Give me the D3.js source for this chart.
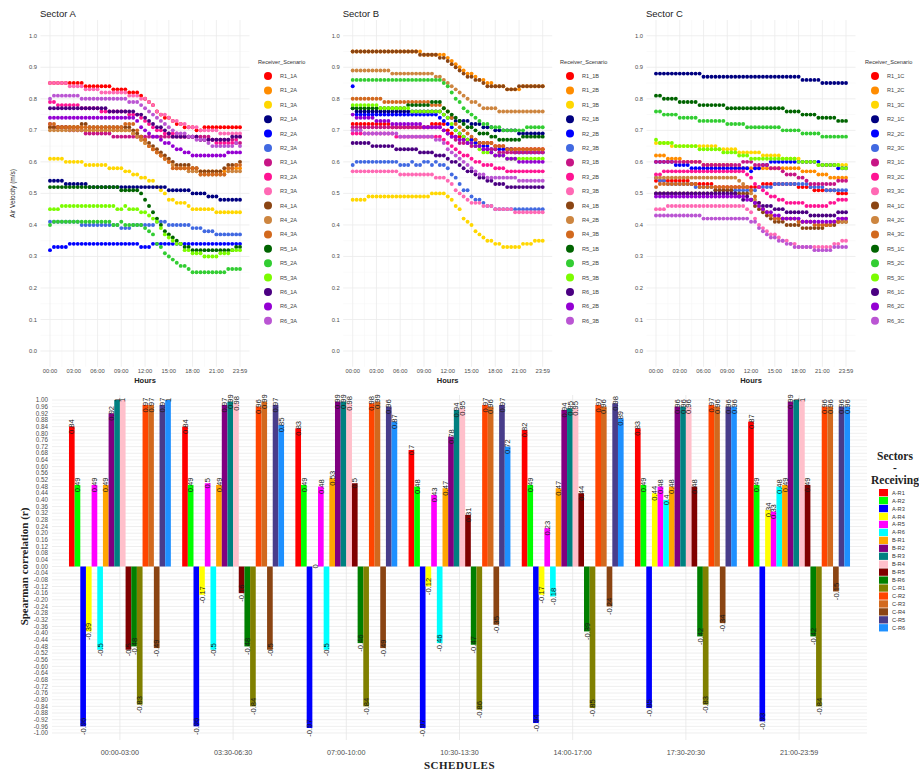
<!DOCTYPE html>
<html>
<head>
<meta charset="utf-8">
<script src="https://cdn.jsdelivr.net/npm/d3@7"></script>
<style>
  body { margin: 0; background: #fff; }
  svg { display: block; }
</style>
</head>
<body>
<svg id="chart" width="919" height="769"></svg>
<script>
// ---------------------------------------------------------------
// Air velocity per receiver and scenario, recorded every 30 minutes.
// Each series is written as steps: [first time index, value (m/s)];
// a value holds until the next step starts.
// ---------------------------------------------------------------
const hours = ["00:00","00:30","01:00","01:30","02:00","02:30","03:00","03:30","04:00","04:30",
  "05:00","05:30","06:00","06:30","07:00","07:30","08:00","08:30","09:00","09:30","10:00","10:30",
  "11:00","11:30","12:00","12:30","13:00","13:30","14:00","14:30","15:00","15:30","16:00","16:30",
  "17:00","17:30","18:00","18:30","19:00","19:30","20:00","20:30","21:00","21:30","22:00","22:30",
  "23:00","23:30","23:59"];
const hourTicks = ["00:00","03:00","06:00","09:00","12:00","15:00","18:00","21:00","23:59"];
const velocityTicks = [0.0,0.1,0.2,0.3,0.4,0.5,0.6,0.7,0.8,0.9,1.0];
const receivers = ["R1_1","R1_2","R1_3","R2_1","R2_2","R2_3","R3_1","R3_2","R3_3",
  "R4_1","R4_2","R4_3","R5_1","R5_2","R5_3","R6_1","R6_2","R6_3"];
const receiverColors = ["#FF0000","#FF8C00","#FFD700","#000080","#0000FF","#4169E1","#C71585","#FF1493","#FF69B4",
  "#8B4513","#CD853F","#D2691E","#006400","#32CD32","#7CFC00","#4B0082","#9400D3","#BA55D3"];

const sectorA = [
  [[0,.85],[9,.84],[16,.83],[20,.82],[23,.81],[24,.80],[25,.79],[26,.78],[27,.76],[28,.75],[29,.74],[31,.73],[32,.72],[34,.71],[37,.70],[39,.71]],
  [[0,.71],[9,.70],[21,.69],[22,.68],[23,.67],[24,.66],[25,.65],[26,.64],[27,.63],[28,.62],[29,.61],[30,.60],[31,.59],[32,.58],[37,.57],[45,.58]],
  [[0,.61],[4,.60],[9,.59],[15,.58],[19,.57],[21,.56],[23,.55],[25,.54],[27,.52],[28,.51],[29,.50],[30,.48],[32,.47],[35,.46],[36,.45],[42,.44]],
  [[0,.54],[4,.53],[10,.52],[30,.51],[36,.50],[40,.49],[43,.48]],
  [[0,.32],[1,.33],[5,.34],[23,.33],[26,.34]],
  [[0,.41],[8,.40],[18,.39],[21,.40],[27,.41],[30,.40],[36,.39],[39,.38],[42,.37]],
  [[0,.72],[1,.71],[5,.70],[9,.69],[16,.68],[41,.67],[47,.66]],
  [[0,.79],[2,.78],[8,.77],[13,.76],[20,.75],[23,.74],[24,.73],[25,.72],[26,.71],[27,.70],[29,.69],[33,.68],[38,.67],[42,.66],[47,.67],[48,.68]],
  [[0,.85],[5,.84],[9,.83],[13,.82],[20,.81],[23,.80],[25,.79],[26,.78],[27,.76],[28,.75],[30,.74],[31,.73],[33,.72],[35,.71],[38,.70],[43,.69]],
  [[0,.71],[8,.72],[10,.71],[21,.70],[22,.69],[23,.68],[24,.67],[25,.66],[26,.65],[27,.64],[28,.63],[29,.62],[30,.61],[31,.60],[32,.59],[36,.58],[38,.57],[44,.58],[45,.59],[48,.60]],
  [[0,.70],[21,.69],[22,.68],[23,.67],[24,.66],[25,.65],[26,.64],[27,.63],[28,.62],[29,.61],[30,.60],[31,.59],[32,.58],[35,.57],[38,.56],[45,.57]],
  [[0,.72],[2,.71],[19,.72],[22,.70],[23,.68],[24,.67],[25,.65],[26,.64],[27,.63],[28,.62],[29,.61],[30,.60],[31,.58],[38,.56],[45,.58],[47,.59]],
  [[0,.52],[18,.51],[23,.50],[24,.48],[25,.46],[26,.44],[27,.42],[28,.40],[29,.38],[30,.37],[31,.36],[32,.35],[33,.34],[34,.33],[36,.32],[47,.33]],
  [[0,.40],[1,.41],[16,.40],[18,.41],[19,.40],[24,.39],[25,.38],[26,.37],[27,.34],[28,.33],[29,.31],[30,.30],[31,.29],[32,.28],[33,.27],[35,.26],[36,.25],[45,.26]],
  [[0,.45],[3,.46],[17,.45],[19,.46],[20,.45],[23,.44],[25,.43],[26,.42],[27,.41],[28,.39],[29,.37],[30,.36],[31,.35],[32,.34],[34,.32],[36,.31],[39,.30],[43,.31],[46,.32]],
  [[0,.77],[15,.76],[22,.75],[24,.74],[25,.73],[26,.72],[27,.71],[29,.70],[30,.69],[31,.68],[38,.67],[46,.68]],
  [[0,.74],[22,.73],[23,.71],[24,.70],[25,.69],[26,.68],[28,.67],[29,.66],[31,.65],[32,.64],[34,.63],[36,.62],[45,.63]],
  [[0,.80],[1,.81],[8,.80],[20,.79],[23,.78],[24,.77],[25,.76],[26,.75],[27,.74],[28,.73],[29,.72],[30,.71],[31,.70],[32,.69],[35,.68],[37,.67],[40,.66],[41,.65],[47,.66],[48,.65]]
];

const sectorB = [
  [[0,.72],[10,.71],[20,.72],[24,.70],[25,.69],[26,.68],[28,.67],[32,.66],[36,.65],[39,.64]],
  [[0,.95],[18,.94],[24,.93],[25,.92],[26,.91],[27,.90],[28,.89],[29,.88],[31,.87],[32,.86],[34,.85],[36,.84],[39,.83],[43,.84]],
  [[0,.48],[4,.49],[20,.50],[24,.49],[25,.48],[26,.46],[27,.45],[28,.42],[29,.41],[30,.40],[31,.38],[32,.37],[33,.36],[34,.35],[36,.34],[38,.33],[43,.34],[46,.35]],
  [[0,.77],[1,.76],[23,.75],[24,.74],[26,.73],[30,.72],[33,.71],[36,.70],[42,.69]],
  [[0,.84],[1,.75],[22,.74],[23,.73],[24,.72],[25,.71],[26,.70],[27,.69],[28,.68],[29,.67],[31,.66],[33,.65],[35,.64],[41,.63]],
  [[0,.59],[1,.60],[12,.59],[15,.60],[16,.59],[18,.60],[20,.59],[21,.60],[22,.59],[24,.58],[25,.56],[26,.55],[27,.53],[28,.51],[30,.49],[31,.48],[33,.47],[34,.46],[36,.45]],
  [[0,.71],[23,.70],[24,.69],[25,.68],[26,.67],[27,.66],[30,.65],[33,.64],[37,.63]],
  [[0,.69],[11,.68],[23,.67],[24,.66],[25,.65],[26,.64],[27,.63],[28,.62],[30,.61],[31,.60],[33,.59],[36,.58],[39,.57]],
  [[0,.57],[12,.56],[21,.55],[24,.54],[25,.53],[26,.51],[27,.50],[28,.49],[29,.48],[30,.47],[33,.46],[36,.45],[41,.44]],
  [[0,.95],[17,.94],[22,.93],[24,.92],[25,.91],[26,.90],[27,.89],[28,.88],[29,.87],[31,.86],[33,.85],[34,.84],[39,.83],[42,.84]],
  [[0,.89],[10,.88],[21,.87],[23,.86],[24,.85],[25,.84],[26,.83],[27,.82],[28,.81],[29,.80],[30,.79],[32,.78],[33,.77],[37,.76]],
  [[0,.80],[8,.79],[20,.78],[23,.77],[24,.76],[25,.74],[26,.72],[27,.71],[28,.70],[29,.69],[30,.68],[31,.67],[32,.66],[36,.65],[39,.64]],
  [[0,.77],[14,.78],[20,.79],[23,.77],[24,.76],[25,.75],[26,.74],[27,.73],[28,.72],[29,.71],[31,.70],[32,.69],[35,.68],[37,.67],[43,.68]],
  [[0,.86],[23,.85],[24,.84],[25,.82],[26,.80],[27,.79],[28,.77],[29,.76],[30,.75],[31,.74],[32,.73],[33,.72],[35,.71],[38,.70],[44,.71]],
  [[0,.78],[7,.77],[15,.76],[23,.75],[24,.74],[25,.72],[26,.70],[27,.69],[28,.68],[29,.67],[30,.66],[31,.65],[32,.64],[33,.63],[36,.62],[39,.61]],
  [[0,.66],[5,.65],[11,.64],[17,.63],[21,.62],[24,.61],[25,.60],[27,.59],[28,.58],[29,.57],[31,.56],[32,.55],[34,.54],[36,.53],[39,.52]],
  [[0,.75],[1,.74],[6,.73],[10,.72],[18,.71],[23,.70],[24,.69],[25,.68],[27,.67],[29,.66],[31,.65],[33,.64],[35,.63],[36,.62],[39,.61],[42,.60]],
  [[0,.70],[3,.69],[12,.68],[21,.67],[23,.66],[24,.64],[25,.63],[26,.62],[27,.61],[28,.60],[29,.59],[30,.58],[31,.57],[32,.56],[34,.55],[42,.54]]
];

const sectorC = [
  [[0,.54],[9,.53],[15,.52],[27,.53],[36,.52],[40,.51],[46,.50]],
  [[0,.62],[3,.61],[7,.60],[12,.59],[20,.58],[37,.57],[41,.56],[44,.55]],
  [[0,.66],[4,.65],[16,.64],[21,.63],[27,.62],[32,.61],[37,.60],[41,.59]],
  [[0,.88],[12,.87],[37,.86],[42,.85]],
  [[0,.60],[5,.59],[9,.58],[24,.57],[25,.58],[27,.59],[29,.60],[42,.59],[46,.58]],
  [[0,.55],[1,.54],[3,.53],[10,.52],[15,.51],[26,.52],[30,.53],[39,.52],[43,.51]],
  [[0,.60],[12,.59],[22,.60],[25,.59],[29,.58],[32,.57],[33,.56],[36,.55],[38,.54],[39,.53],[46,.54]],
  [[0,.56],[2,.57],[23,.56],[24,.55],[25,.53],[26,.52],[27,.51],[28,.50],[29,.49],[31,.48],[33,.47],[38,.46],[44,.47],[46,.48]],
  [[0,.45],[3,.46],[23,.45],[24,.44],[25,.42],[26,.40],[27,.39],[28,.38],[29,.37],[31,.36],[32,.35],[34,.34],[36,.33],[45,.34],[47,.35]],
  [[0,.50],[15,.51],[20,.50],[24,.48],[25,.46],[26,.45],[27,.44],[28,.43],[29,.42],[30,.41],[33,.40],[37,.39],[43,.40],[46,.41]],
  [[0,.55],[21,.54],[22,.53],[23,.52],[24,.50],[25,.48],[26,.46],[27,.45],[28,.44],[29,.43],[30,.42],[36,.41],[41,.40],[45,.41]],
  [[0,.52],[1,.53],[11,.52],[24,.51],[25,.49],[26,.47],[27,.45],[28,.44],[29,.43],[30,.42],[36,.41],[40,.40],[45,.41],[47,.42]],
  [[0,.81],[2,.80],[6,.79],[11,.78],[18,.77],[33,.76],[37,.75],[41,.74],[46,.73]],
  [[0,.76],[2,.75],[6,.74],[11,.73],[18,.72],[23,.71],[32,.70],[37,.69],[42,.68]],
  [[0,.67],[1,.66],[5,.65],[11,.64],[17,.63],[21,.62],[24,.61],[36,.60],[41,.59],[47,.58]],
  [[0,.50],[21,.49],[22,.48],[23,.49],[24,.48],[25,.47],[27,.46],[30,.45],[33,.44],[39,.43],[46,.44]],
  [[0,.49],[23,.48],[25,.47],[26,.46],[27,.45],[28,.44],[30,.43],[32,.42],[37,.41],[46,.42]],
  [[0,.43],[12,.42],[24,.41],[26,.39],[27,.38],[28,.37],[29,.36],[31,.35],[33,.34],[35,.33],[40,.32],[45,.33]]
];

// ---------------------------------------------------------------
// Spearman correlation (r) between sectors/receivers and schedules
// ---------------------------------------------------------------
const schedules = ["00:00-03:00","03:30-06:30","07:00-10:00","10:30-13:30","14:00-17:00","17:30-20:30","21:00-23:59"];
const sectorReceivers = ["A-R1","A-R2","A-R3","A-R4","A-R5","A-R6","B-R1","B-R2","B-R3","B-R4","B-R5","B-R6",
  "C-R1","C-R2","C-R3","C-R4","C-R5","C-R6"];
const sectorReceiverColors = ["#FF0000","#00FF00","#0000FF","#FFFF00","#FF00FF","#00FFFF","#FFA500","#800080","#008080",
  "#FFC0CB","#800000","#008000","#808000","#FF4500","#D2691E","#8B4513","#483D8B","#1E90FF"];
const r0000_0300 = [0.84,0.49,-0.96,-0.39,0.49,-0.5,0.49,0.92,1,1,-0.5,-0.48,-0.83,0.97,0.97,-0.49,0.97,1];
const r0330_0630 = [0.84,0.49,-0.96,-0.17,0.5,-0.5,0.49,0.97,0.99,0.98,-0.16,-0.48,-0.84,0.96,0.99,-0.5,0.97,0.85];
const r0700_1000 = [0.83,0.49,-0.97,0,0.48,-0.5,0.53,0.99,0.99,0.98,0.5,-0.46,-0.84,0.98,0.99,-0.49,0.96,0.87];
const r1030_1330 = [0.7,0.48,-0.97,-0.12,0.43,-0.46,0.47,0.78,0.94,0.95,0.31,-0.47,-0.86,0.97,0.96,-0.35,0.97,0.72];
const r1400_1700 = [0.82,0.49,-0.94,-0.17,0.23,-0.18,0.47,0.94,0.95,0.95,0.44,-0.39,-0.85,0.97,0.96,-0.24,0.98,0.89];
const r1730_2030 = [0.83,0.49,-0.85,0.44,0.48,0.4,0.48,0.96,0.96,0.96,0.48,-0.42,-0.83,0.97,0.96,-0.34,0.96,0.96];
const r2100_2359 = [0.87,0.49,-0.93,0.34,0.33,0.48,0.49,0.99,1,1,0.49,-0.42,-0.84,0.96,0.96,-0.15,0.96,0.96];
const correlationTicks = [1.00,0.96,0.92,0.88,0.84,0.80,0.76,0.72,0.68,0.64,0.60,0.56,0.52,0.48,0.44,0.40,0.36,0.32,
  0.28,0.24,0.20,0.16,0.12,0.08,0.04,0.00,-0.04,-0.08,-0.12,-0.16,-0.20,-0.24,-0.28,-0.32,-0.36,-0.40,-0.44,-0.48,
  -0.52,-0.56,-0.60,-0.64,-0.68,-0.72,-0.76,-0.80,-0.84,-0.88,-0.92,-0.96,-1.00];

// ---------------------------------------------------------------
const svg = d3.select("#chart");
const SANS = "'Liberation Sans', Arial, sans-serif";
const SERIF = "'Liberation Serif', 'Times New Roman', serif";

const toMinutes = t => { const [h, m] = t.split(":").map(Number); return h * 60 + m; };
const expandSteps = steps => hours.map((t, i) => {
  let v = steps[0][1];
  for (const [start, val] of steps) if (start <= i) v = val;
  return { t, v };
});

// ---------------- top row: three sector dot plots ----------------
const sectorPanels = [
  { title: "Sector A", suffix: "A", series: sectorA, x0: 50,    legendX: 258, yTitle: true },
  { title: "Sector B", suffix: "B", series: sectorB, x0: 352.7, legendX: 560, yTitle: false },
  { title: "Sector C", suffix: "C", series: sectorC, x0: 656,   legendX: 865, yTitle: false }
];

const yV = d3.scaleLinear().domain([-0.05, 1.05]).range([366.8, 20]);

sectorPanels.forEach(p => {
  const g = svg.append("g");
  const x = d3.scaleLinear().domain([0, toMinutes("23:59")]).range([p.x0, p.x0 + 190]);
  const left = p.x0 - 9.5, right = p.x0 + 199.5, top = yV.range()[1], bottom = yV.range()[0];

  // grid
  const tickMin = hourTicks.map(toMinutes);
  const minorX = d3.pairs(tickMin).map(([a, b]) => (a + b) / 2);
  const minorY = d3.pairs(velocityTicks).map(([a, b]) => (a + b) / 2);
  g.selectAll(".mx").data(minorX).join("line")
    .attr("x1", d => x(d)).attr("x2", d => x(d)).attr("y1", top).attr("y2", bottom)
    .attr("stroke", "#f4f4f4").attr("stroke-width", 0.5);
  g.selectAll(".my").data(minorY).join("line")
    .attr("x1", left).attr("x2", right).attr("y1", d => yV(d)).attr("y2", d => yV(d))
    .attr("stroke", "#f4f4f4").attr("stroke-width", 0.5);
  g.selectAll(".gx").data(tickMin).join("line")
    .attr("x1", d => x(d)).attr("x2", d => x(d)).attr("y1", top).attr("y2", bottom)
    .attr("stroke", "#ebebeb").attr("stroke-width", 0.8);
  g.selectAll(".gy").data(velocityTicks).join("line")
    .attr("x1", left).attr("x2", right).attr("y1", d => yV(d)).attr("y2", d => yV(d))
    .attr("stroke", "#ebebeb").attr("stroke-width", 0.8);

  // axes labels
  g.selectAll(".yt").data(velocityTicks).join("text")
    .attr("x", p.x0 - 13).attr("y", d => yV(d)).attr("dy", "0.35em")
    .attr("text-anchor", "end").attr("font-family", SANS).attr("font-size", 5.8).attr("fill", "#4d4d4d")
    .text(d => d.toFixed(1));
  g.selectAll(".xt").data(hourTicks).join("text")
    .attr("x", d => x(toMinutes(d))).attr("y", 373)
    .attr("text-anchor", "middle").attr("font-family", SANS).attr("font-size", 5.8).attr("fill", "#4d4d4d")
    .text(d => d);
  g.append("text").attr("x", p.x0 + 95).attr("y", 383).attr("text-anchor", "middle")
    .attr("font-family", SANS).attr("font-size", 7.5).attr("font-weight", "bold").attr("fill", "#222")
    .text("Hours");
  g.append("text").attr("x", p.x0 - 10).attr("y", 17)
    .attr("font-family", SANS).attr("font-size", 9.5).attr("fill", "#222").text(p.title);
  if (p.yTitle) {
    g.append("text").attr("transform", `translate(15,${yV(0.5)}) rotate(-90)`)
      .attr("text-anchor", "middle").attr("font-family", SANS).attr("font-size", 6.5).attr("fill", "#222")
      .text("Air Velocity (m/s)");
  }

  // points
  p.series.forEach((steps, si) => {
    g.append("g").selectAll("circle").data(expandSteps(steps)).join("circle")
      .attr("cx", d => x(toMinutes(d.t))).attr("cy", d => yV(d.v)).attr("r", 1.95)
      .attr("fill", receiverColors[si]);
  });

  // legend
  const lg = g.append("g");
  lg.append("text").attr("x", p.legendX).attr("y", 64)
    .attr("font-family", SANS).attr("font-size", 5.6).attr("fill", "#333").text("Receiver_Scenario");
  receivers.forEach((r, i) => {
    const cy = 76 + i * 14.4;
    lg.append("circle").attr("cx", p.legendX + 10).attr("cy", cy).attr("r", 4).attr("fill", receiverColors[i]);
    lg.append("text").attr("x", p.legendX + 22).attr("y", cy).attr("dy", "0.35em")
      .attr("font-family", SANS).attr("font-size", 5.6).attr("fill", "#444").text(r + p.suffix);
  });
});

// ---------------- bottom: grouped correlation bars ----------------
const scheduleValues = [r0000_0300, r0330_0630, r0700_1000, r1030_1330, r1400_1700, r1730_2030, r2100_2359];
const bx = d3.scalePoint().domain(schedules).range([52, 867]).padding(0.6);
const groupW = bx.step() * 0.9;
const inner = d3.scaleBand().domain(sectorReceivers).range([-groupW / 2, groupW / 2]);
const yR = d3.scaleLinear().domain([-1.042, 1.03]).range([740, 395]);
const bLeft = 52, bRight = 867;

const gb = svg.append("g");
const minorR = d3.pairs(correlationTicks).map(([a, b]) => (a + b) / 2);
gb.selectAll(".mr").data(minorR).join("line")
  .attr("x1", bLeft).attr("x2", bRight).attr("y1", d => yR(d)).attr("y2", d => yR(d))
  .attr("stroke", "#f2f2f2").attr("stroke-width", 0.5);
gb.selectAll(".gr").data(correlationTicks).join("line")
  .attr("x1", bLeft).attr("x2", bRight).attr("y1", d => yR(d)).attr("y2", d => yR(d))
  .attr("stroke", "#e6e6e6").attr("stroke-width", 0.7);
gb.selectAll(".gs").data(schedules).join("line")
  .attr("x1", d => bx(d)).attr("x2", d => bx(d)).attr("y1", 395).attr("y2", 740)
  .attr("stroke", "#e6e6e6").attr("stroke-width", 0.8);

gb.selectAll(".rt").data(correlationTicks).join("text")
  .attr("x", 48).attr("y", d => yR(d)).attr("dy", "0.35em").attr("text-anchor", "end")
  .attr("font-family", SANS).attr("font-size", 6.3).attr("fill", "#4d4d4d")
  .text(d => d.toFixed(2));
gb.selectAll(".st").data(schedules).join("text")
  .attr("x", d => bx(d)).attr("y", 754.5).attr("text-anchor", "middle")
  .attr("font-family", SANS).attr("font-size", 7.2).attr("fill", "#4d4d4d").text(d => d);
gb.append("text").attr("x", bx(schedules[3])).attr("y", 768.5).attr("text-anchor", "middle")
  .attr("font-family", SERIF).attr("font-size", 11).attr("font-weight", "bold").attr("fill", "#222")
  .attr("letter-spacing", 0.5).text("SCHEDULES");
gb.append("text").attr("transform", `translate(28,${yR(0)}) rotate(-90)`).attr("text-anchor", "middle")
  .attr("font-family", SERIF).attr("font-size", 11).attr("font-weight", "bold").attr("fill", "#222")
  .text("Spearman correlation (r)");

const barData = [];
schedules.forEach((s, si) => sectorReceivers.forEach((k, ki) =>
  barData.push({ s, k, ki, v: scheduleValues[si][ki] })));

gb.append("g").selectAll("rect").data(barData).join("rect")
  .attr("x", d => bx(d.s) + inner(d.k)).attr("width", inner.bandwidth())
  .attr("y", d => yR(Math.max(0, d.v))).attr("height", d => Math.abs(yR(d.v) - yR(0)))
  .attr("fill", d => sectorReceiverColors[d.ki]);

gb.append("g").selectAll("text").data(barData).join("text")
  .attr("transform", d => `translate(${bx(d.s) + inner(d.k) + inner.bandwidth() / 2},${yR(d.v)}) rotate(-90)`)
  .attr("text-anchor", "middle").attr("dy", "0.35em")
  .attr("font-family", SANS).attr("font-size", 7.6).attr("fill", "#1a1a1a")
  .text(d => String(d.v));

// legend
const lb = svg.append("g");
[["Sectors", 460], ["-", 472], ["Receiving", 484]].forEach(([t, y]) =>
  lb.append("text").attr("x", 895).attr("y", y).attr("text-anchor", "middle")
    .attr("font-family", SERIF).attr("font-size", 11.5).attr("font-weight", "bold").attr("fill", "#222").text(t));
sectorReceivers.forEach((k, i) => {
  const y = 489 + i * 7.95;
  lb.append("rect").attr("x", 879).attr("y", y).attr("width", 9).attr("height", 7.3)
    .attr("fill", sectorReceiverColors[i]);
  lb.append("text").attr("x", 892).attr("y", y + 3.7).attr("dy", "0.35em")
    .attr("font-family", SANS).attr("font-size", 5.6).attr("fill", "#333").text(k);
});
</script>
</body>
</html>
